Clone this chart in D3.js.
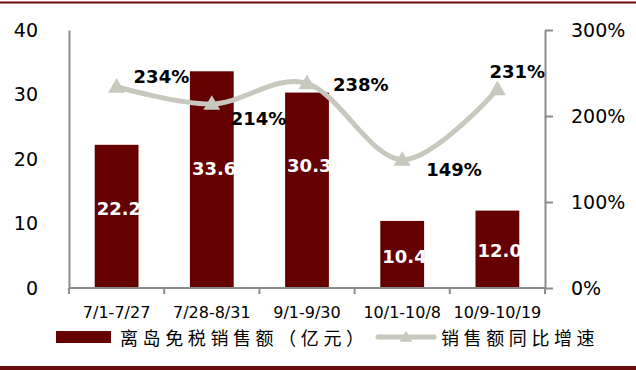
<!DOCTYPE html>
<html>
<head>
<meta charset="utf-8">
<script src="https://cdn.jsdelivr.net/npm/d3@7"></script>
<style>
  html, body { margin: 0; padding: 0; background: #fff; }
  svg { display: block; }
</style>
</head>
<body>
<svg id="chart" width="636" height="370"></svg>
<script>
// ---- data ----
const categories = ["7/1-7/27", "7/28-8/31", "9/1-9/30", "10/1-10/8", "10/9-10/19"];
const salesValues = [22.2, 33.6, 30.3, 10.4, 12.0];          // 亿元
const growthValues = [2.34, 2.14, 2.38, 1.49, 2.31];         // 同比增速
const leftTicks = [0, 10, 20, 30, 40];
const rightTicks = [0, 1, 2, 3];
const seriesNames = ["离岛免税销售额（亿元）", "销售额同比增速"];

// ---- layout (label nudges, px) ----
const barLabelNudge = [-8, -11, -25, 2, 1];
const pctLabelNudge = [[17, -4], [19, 21], [26, 8], [24, 16], [-8, -11]];

const W = 636, H = 370;
const M = { left: 69, right: 545, top: 30, bottom: 288 };
const barColor = "#640000";
const lineColor = "#c8c8be";
const axisColor = "#8c8c8c";
const numFont = "'DejaVu Sans', Verdana, sans-serif";
const cjkFont = "'Noto Sans CJK SC', sans-serif";

const svg = d3.select("#chart");

// borders
svg.append("rect").attr("x", 0).attr("y", 1.5).attr("width", W).attr("height", 2).attr("fill", "#6b0a0a");
svg.append("rect").attr("x", 0).attr("y", 366).attr("width", W).attr("height", 4).attr("fill", "#6b0a0a");

const x = d3.scaleBand().domain(categories).range([M.left, M.right])
  .paddingInner(0.54).paddingOuter(0.27);
const yL = d3.scaleLinear().domain([0, 40]).range([M.bottom, M.top]);
const yR = d3.scaleLinear().domain([0, 3]).range([M.bottom, M.top]);

// bars
svg.append("g").selectAll("rect").data(salesValues).join("rect")
  .attr("x", (d, i) => x(categories[i]))
  .attr("y", d => yL(d))
  .attr("width", x.bandwidth())
  .attr("height", d => yL(0) - yL(d))
  .attr("fill", barColor);

// left axis
const gL = svg.append("g").attr("transform", `translate(${M.left},0)`)
  .call(d3.axisLeft(yL).tickValues(leftTicks).tickSize(0).tickPadding(31));
gL.select(".domain").attr("stroke", axisColor).attr("stroke-width", 2);
gL.selectAll("text").attr("font-family", numFont).attr("font-size", 19).attr("fill", "#000");

// right axis
const gR = svg.append("g").attr("transform", `translate(${M.right},0)`)
  .call(d3.axisRight(yR).tickValues(rightTicks).tickSize(8).tickSizeOuter(0).tickPadding(18)
    .tickFormat(d => Math.round(d * 100) + "%"));
gR.select(".domain").attr("stroke", axisColor).attr("stroke-width", 2);
gR.selectAll(".tick line").attr("stroke", axisColor).attr("stroke-width", 2);
gR.selectAll("text").attr("font-family", numFont).attr("font-size", 19).attr("fill", "#000");

// bottom axis (ticks at category boundaries)
const gB = svg.append("g").attr("transform", `translate(0,${M.bottom})`);
gB.append("line").attr("x1", M.left).attr("x2", M.right).attr("stroke", axisColor).attr("stroke-width", 2);
const bounds = categories.map(c => x(c) - x.step() * x.paddingInner() / 2).concat([M.right]);
bounds[0] = M.left;
gB.selectAll("line.tk").data(bounds).join("line").attr("class", "tk")
  .attr("x1", d => d).attr("x2", d => d).attr("y1", 0).attr("y2", 6)
  .attr("stroke", axisColor).attr("stroke-width", 2);
gB.selectAll("text").data(categories).join("text")
  .attr("x", d => x(d) + x.bandwidth() / 2).attr("y", 30)
  .attr("text-anchor", "middle").attr("font-family", numFont).attr("font-size", 16).attr("fill", "#000")
  .text(d => d);

// bar value labels
svg.append("g").selectAll("text").data(salesValues).join("text")
  .attr("x", (d, i) => x(categories[i]) + 2)
  .attr("y", (d, i) => (yL(d) + yL(0)) / 2 + 6.5 + barLabelNudge[i])
  .attr("font-family", numFont).attr("font-weight", "bold").attr("font-size", 18).attr("fill", "#fff")
  .text(d => d.toFixed(1));

// line
const cx = i => x(categories[i]) + x.bandwidth() / 2;
const line = d3.line().x((d, i) => cx(i)).y(d => yR(d)).curve(d3.curveCardinal.tension(0));
svg.append("path").datum(growthValues).attr("d", line)
  .attr("fill", "none").attr("stroke", lineColor).attr("stroke-width", 5).attr("stroke-linecap", "round");
svg.append("g").selectAll("path").data(growthValues).join("path")
  .attr("transform", (d, i) => `translate(${cx(i)},${yR(d) + 1})`)
  .attr("d", d3.symbol(d3.symbolTriangle, 125))
  .attr("fill", lineColor);

// pct labels
svg.append("g").selectAll("text").data(growthValues).join("text")
  .attr("x", (d, i) => cx(i) + pctLabelNudge[i][0])
  .attr("y", (d, i) => yR(d) + pctLabelNudge[i][1])
  .attr("font-family", numFont).attr("font-weight", "bold").attr("font-size", 18).attr("fill", "#000")
  .text(d => Math.round(d * 100) + "%");

// legend
const lg = svg.append("g");
lg.append("rect").attr("x", 56).attr("y", 331).attr("width", 55).attr("height", 12).attr("fill", barColor);
lg.append("text").attr("x", 120).attr("y", 344.5)
  .attr("font-family", cjkFont).attr("font-size", 18).attr("letter-spacing", "4.6px").attr("fill", "#000")
  .text(seriesNames[0]);
lg.append("line").attr("x1", 378).attr("x2", 434).attr("y1", 337).attr("y2", 337)
  .attr("stroke", lineColor).attr("stroke-width", 5).attr("stroke-linecap", "round");
lg.append("path").attr("transform", "translate(406,338)")
  .attr("d", d3.symbol(d3.symbolTriangle, 70)).attr("fill", lineColor);
lg.append("text").attr("x", 441).attr("y", 344.5)
  .attr("font-family", cjkFont).attr("font-size", 18).attr("letter-spacing", "4.6px").attr("fill", "#000")
  .text(seriesNames[1]);
</script>
</body>
</html>
